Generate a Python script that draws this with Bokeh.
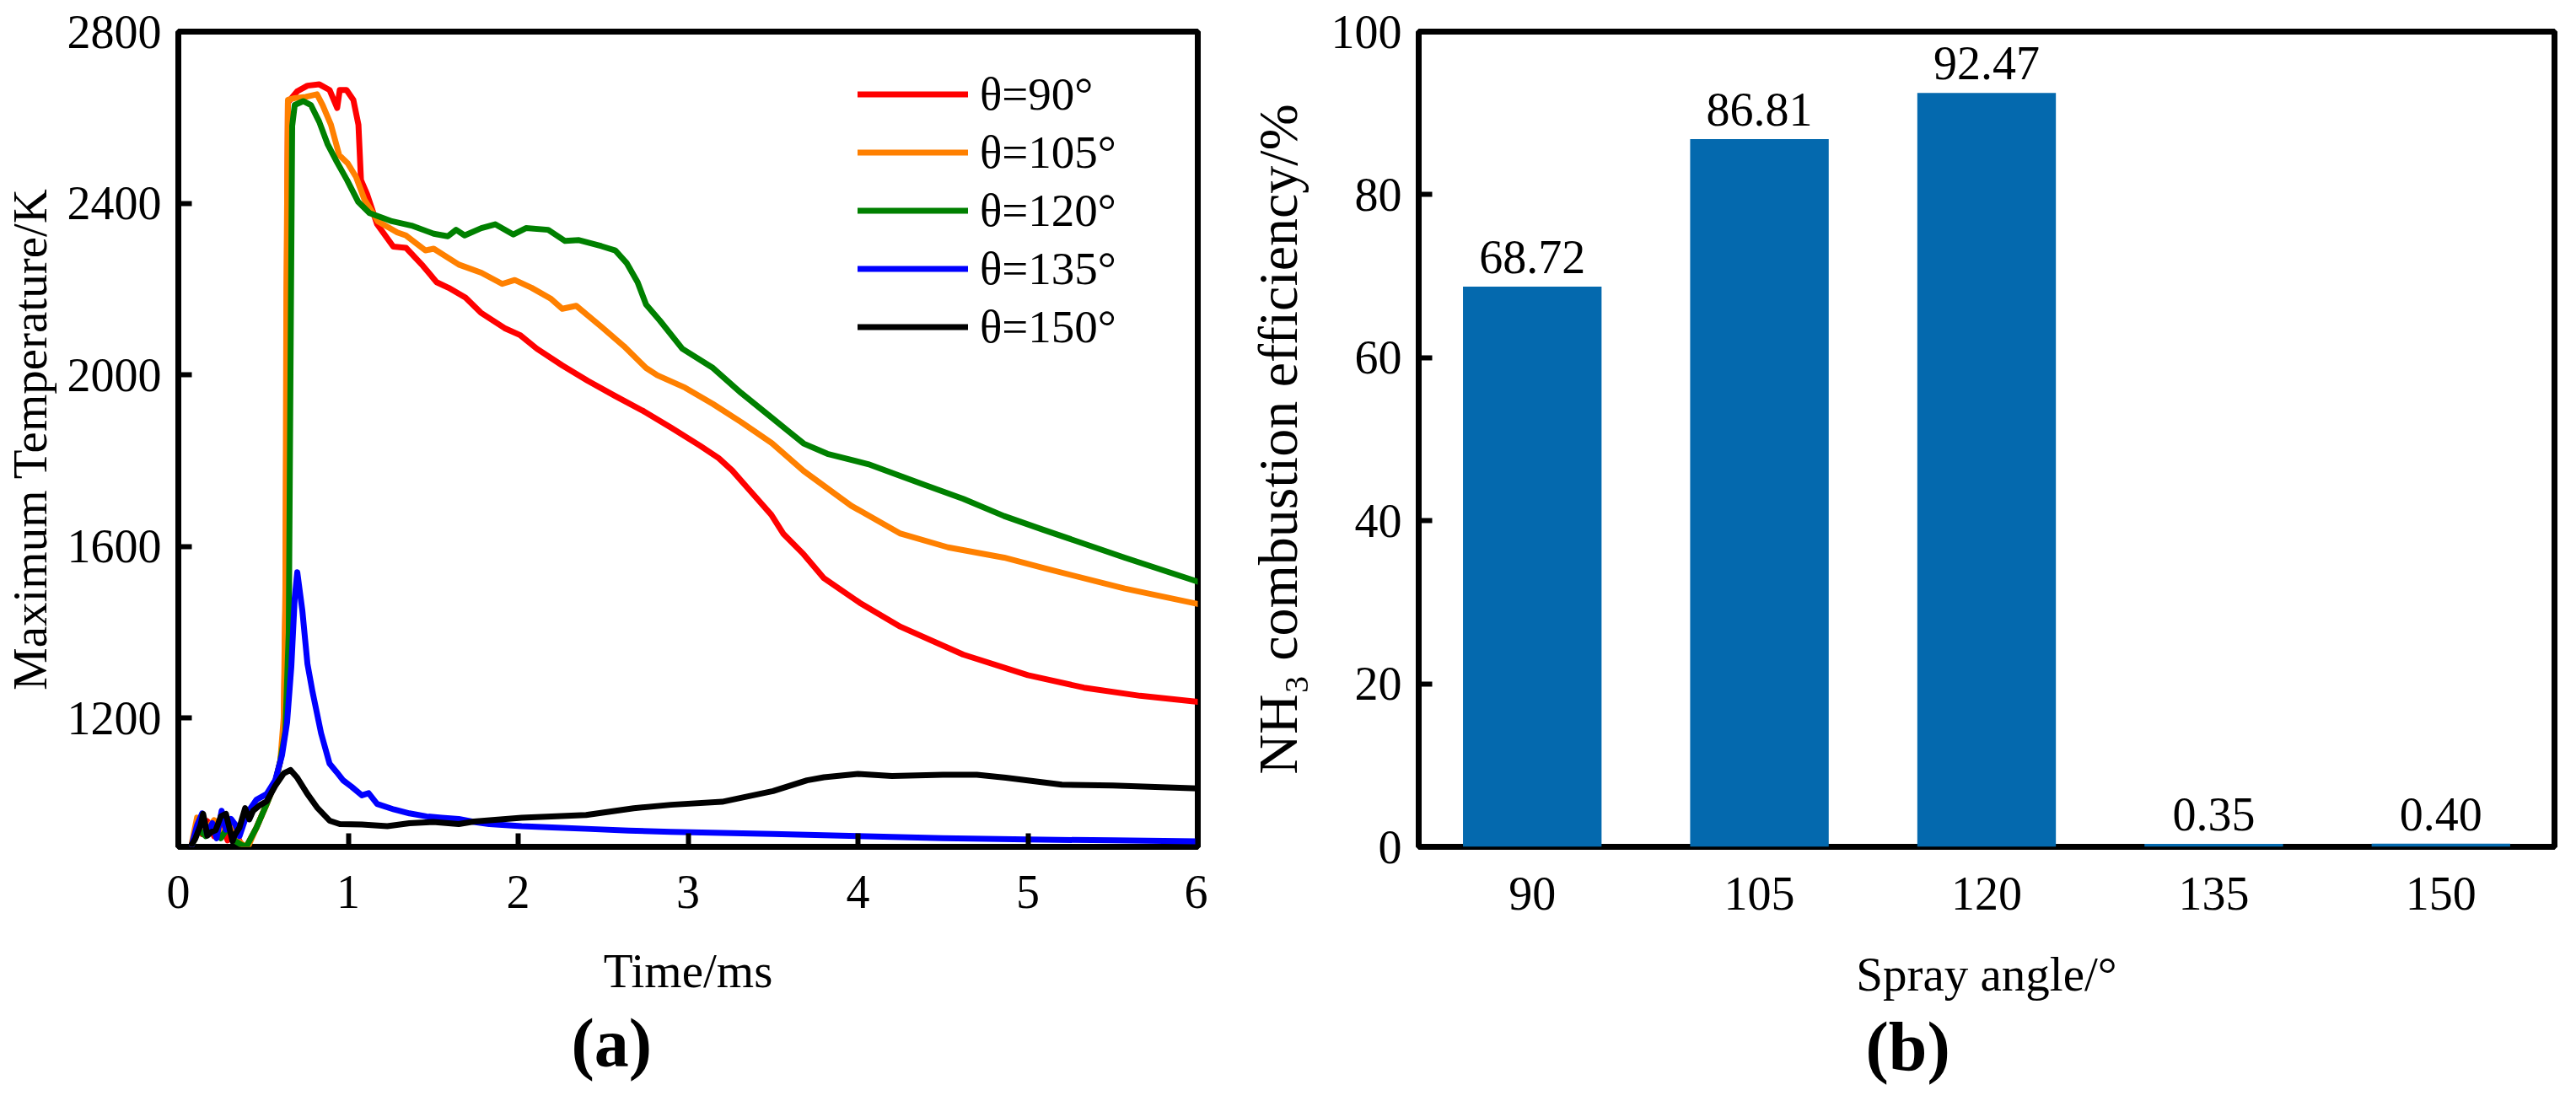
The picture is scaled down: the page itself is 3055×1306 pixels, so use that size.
from bokeh.plotting import figure
from bokeh.layouts import row
from bokeh.models import ColumnDataSource, FixedTicker, Legend, LegendItem, LabelSet, Title
from bokeh.embed import file_html
from bokeh.resources import INLINE

FONT = "Liberation Serif"

# (a) maximum temperature vs time
t_90 = [0.08, 0.11, 0.14, 0.17, 0.21, 0.25, 0.29, 0.33, 0.37, 0.40, 0.46, 0.52, 0.57, 0.60, 0.62, 0.632,
        0.64, 0.645, 0.70, 0.76, 0.83, 0.89, 0.935, 0.95, 0.99, 1.03, 1.06, 1.075, 1.11, 1.17, 1.265, 1.34,
        1.44, 1.52, 1.59, 1.69, 1.78, 1.92, 2.01, 2.11, 2.26, 2.41, 2.57, 2.74, 2.90, 3.07, 3.18, 3.26,
        3.36, 3.49, 3.56, 3.68, 3.80, 4.01, 4.25, 4.62, 5.0, 5.33, 5.66, 6.0]
T_90 = [905, 945, 930, 960, 925, 955, 915, 940, 905, 900, 945, 1000, 1050, 1100, 1150, 1500,
        2300, 2635, 2661, 2674, 2677, 2664, 2622, 2664, 2664, 2641, 2583, 2454, 2422, 2351, 2299, 2296,
        2254, 2216, 2203, 2180, 2145, 2109, 2093, 2061, 2022, 1986, 1951, 1915, 1877, 1835, 1806, 1777,
        1732, 1674, 1630, 1582, 1526, 1469, 1413, 1348, 1300, 1271, 1252, 1238]

t_105 = [0.08, 0.11, 0.15, 0.21, 0.26, 0.30, 0.34, 0.38, 0.41, 0.46, 0.52, 0.57, 0.60, 0.62, 0.63, 0.636,
         0.645, 0.685, 0.75, 0.816, 0.849, 0.898, 0.947, 0.997, 1.046, 1.095, 1.174, 1.289, 1.339, 1.454,
         1.503, 1.651, 1.783, 1.906, 1.98, 2.079, 2.194, 2.26, 2.342, 2.49, 2.622, 2.753, 2.819, 2.983,
         3.147, 3.312, 3.493, 3.68, 3.96, 4.25, 4.53, 4.86, 5.09, 5.57, 6.0]
T_105 = [910, 968, 935, 962, 930, 950, 918, 905, 900, 945, 1000, 1050, 1100, 1200, 1500, 2200,
         2641, 2645, 2648, 2654, 2629, 2583, 2512, 2493, 2461, 2409, 2358, 2332, 2325, 2290,
         2294, 2257, 2238, 2212, 2221, 2203, 2177, 2154, 2161, 2112, 2067, 2016, 1999, 1970,
         1932, 1890, 1841, 1776, 1695, 1630, 1598, 1574, 1550, 1502, 1466]

t_120 = [0.08, 0.12, 0.16, 0.20, 0.25, 0.29, 0.33, 0.37, 0.40, 0.46, 0.52, 0.57, 0.60, 0.63, 0.65, 0.66,
         0.67, 0.685, 0.735, 0.78, 0.829, 0.878, 0.928, 0.993, 1.059, 1.125, 1.257, 1.372, 1.503, 1.586,
         1.635, 1.685, 1.783, 1.865, 1.972, 2.046, 2.177, 2.276, 2.358, 2.49, 2.572, 2.638, 2.703, 2.753,
         2.835, 2.966, 3.147, 3.312, 3.493, 3.68, 3.82, 4.06, 4.39, 4.62, 4.86, 5.09, 5.57, 6.0]
T_120 = [905, 940, 925, 950, 920, 945, 915, 905, 900, 945, 1000, 1050, 1100, 1170, 1400, 2000,
         2580, 2629, 2638, 2629, 2590, 2538, 2500, 2454, 2403, 2377, 2358, 2348, 2329, 2323,
         2338, 2325, 2342, 2351, 2327, 2342, 2338, 2312, 2314, 2300, 2290, 2261, 2216, 2164,
         2126, 2061, 2016, 1958, 1900, 1840, 1816, 1792, 1744, 1711, 1671, 1639, 1574, 1518]

t_135 = [0.08, 0.11, 0.14, 0.17, 0.20, 0.225, 0.255, 0.28, 0.31, 0.335, 0.36, 0.39, 0.425, 0.46, 0.52,
         0.57, 0.61, 0.64, 0.665, 0.685, 0.70, 0.73, 0.76, 0.79, 0.84, 0.89, 0.93, 0.97, 1.02, 1.08, 1.12,
         1.17, 1.27, 1.36, 1.46, 1.55, 1.65, 1.74, 1.83, 2.02, 2.2, 2.4, 2.65, 2.9, 3.5, 4.0, 4.5, 5.0,
         5.5, 6.0]
T_135 = [905, 950, 978, 930, 955, 920, 984, 940, 965, 952, 925, 960, 990, 1010, 1023,
         1055, 1113, 1190, 1320, 1480, 1540, 1450, 1326, 1261, 1165, 1094, 1075, 1055, 1040, 1020, 1025,
         1000, 987, 978, 971, 968, 965, 958, 953, 948, 945, 942, 938, 935, 930, 925, 920, 917,
         915, 913]

t_150 = [0.08, 0.10, 0.13, 0.146, 0.171, 0.196, 0.22, 0.25, 0.28, 0.30, 0.319, 0.33, 0.36, 0.393, 0.418,
         0.44, 0.48, 0.52, 0.57, 0.62, 0.66, 0.70, 0.76, 0.82, 0.89, 0.95, 1.08, 1.23, 1.36, 1.50, 1.65,
         1.74, 2.02, 2.40, 2.68, 2.90, 3.2, 3.5, 3.7, 3.8, 4.0, 4.2, 4.5, 4.7, 4.87, 5.2, 5.5, 6.0]
T_150 = [906, 919, 950, 977, 926, 935, 939, 971, 977, 945, 913, 926, 945, 990, 964,
         984, 997, 1006, 1042, 1071, 1079, 1061, 1023, 990, 961, 953, 952, 948, 955, 958, 953,
         959, 968, 974, 990, 998, 1005, 1030, 1055, 1062, 1070, 1065, 1068, 1068, 1061, 1045, 1043, 1036]

series_labels = ["θ=90°", "θ=105°", "θ=120°", "θ=135°", "θ=150°"]
series_colors = ["#FF0000", "#FF8000", "#008000", "#0000FF", "#000000"]

# (b) NH3 combustion efficiency per spray angle
spray_angles = ["90", "105", "120", "135", "150"]
efficiency = [68.72, 86.81, 92.47, 0.35, 0.40]
efficiency_text = ["68.72", "86.81", "92.47", "0.35", "0.40"]


def style_axes(p, label_size):
    """Common look: black box, inward ticks, serif text, no grid."""
    p.grid.visible = False
    p.outline_line_color = "black"
    p.outline_line_width = 7
    p.background_fill_color = "white"
    p.border_fill_color = "white"
    for ax in p.axis:
        ax.axis_line_color = None
        ax.major_tick_in = 16
        ax.major_tick_out = 0
        ax.major_tick_line_width = 6
        ax.major_tick_line_color = "black"
        ax.minor_tick_line_color = None
        ax.major_label_text_font = FONT
        ax.major_label_text_font_size = "56px"
        ax.major_label_text_color = "black"
        ax.axis_label_text_font = FONT
        ax.axis_label_text_font_style = "normal"
        ax.axis_label_text_color = "black"
    p.xaxis.axis_label_text_font_size = "57px"
    p.yaxis.axis_label_text_font_size = label_size


def panel_tag(p, text, offset):
    """'(a)' style tag under the x axis label."""
    tag = Title(text=text, align="left", offset=offset, standoff=8, text_font=FONT,
                text_font_size="82px", text_font_style="bold", text_color="black")
    p.add_layout(tag, "below")


def plot_temperature():
    p = figure(width=1432, height=1290, x_range=(0, 6), y_range=(900, 2800),
               output_backend="svg", toolbar_location=None,
               min_border_left=204, min_border_right=12, min_border_top=30, min_border_bottom=278,
               x_axis_label="Time/ms", y_axis_label="Maximum Temperature/K")
    style_axes(p, "57px")
    p.xaxis.ticker = FixedTicker(ticks=[0, 1, 2, 3, 4, 5, 6])
    p.yaxis.ticker = FixedTicker(ticks=[1200, 1600, 2000, 2400, 2800])
    p.xaxis.major_label_standoff = 34
    p.yaxis.major_label_standoff = 20
    p.xaxis.axis_label_standoff = 40
    p.yaxis.axis_label_standoff = 10

    data = [(t_90, T_90), (t_105, T_105), (t_120, T_120), (t_135, T_135), (t_150, T_150)]
    items = []
    for (t, T), name, color in zip(data, series_labels, series_colors):
        r = p.line(t, T, line_color=color, line_width=7, line_join="round", line_cap="round")
        items.append(LegendItem(label=name, renderers=[r]))

    legend = Legend(items=items, location=(806, 585), padding=0, margin=0, spacing=6,
                    glyph_width=131, glyph_height=63, label_height=63, label_standoff=14,
                    label_text_font=FONT, label_text_font_size="55px", label_text_color="black",
                    border_line_color=None, background_fill_alpha=0)
    p.add_layout(legend)

    panel_tag(p, "(a)", 466)
    return p


def plot_efficiency():
    p = figure(width=1607, height=1290, x_range=spray_angles, y_range=(0, 100),
               output_backend="svg", toolbar_location=None,
               min_border_left=250, min_border_right=10, min_border_top=37, min_border_bottom=285,
               x_axis_label="Spray angle/°", y_axis_label="NH₃ combustion efficiency/%")
    style_axes(p, "66px")
    p.yaxis.ticker = FixedTicker(ticks=[0, 20, 40, 60, 80, 100])
    p.xaxis.major_tick_in = 0
    p.xaxis.major_tick_line_color = None
    p.xaxis.major_label_standoff = 36
    p.yaxis.major_label_standoff = 20
    p.xaxis.axis_label_standoff = 42
    p.yaxis.axis_label_standoff = 24

    source = ColumnDataSource(dict(angle=spray_angles, value=efficiency, text=efficiency_text))
    p.vbar(x="angle", top="value", width=0.61, source=source,
           fill_color="#0469AE", line_color=None)
    labels = LabelSet(x="angle", y="value", text="text", source=source, text_align="center",
                      text_baseline="bottom", y_offset=16, text_font=FONT,
                      text_font_size="56px", text_color="black")
    p.add_layout(labels)

    panel_tag(p, "(b)", 530)
    return p


layout = row(plot_temperature(), plot_efficiency())
open("out.html", "w").write(file_html(layout, INLINE))
